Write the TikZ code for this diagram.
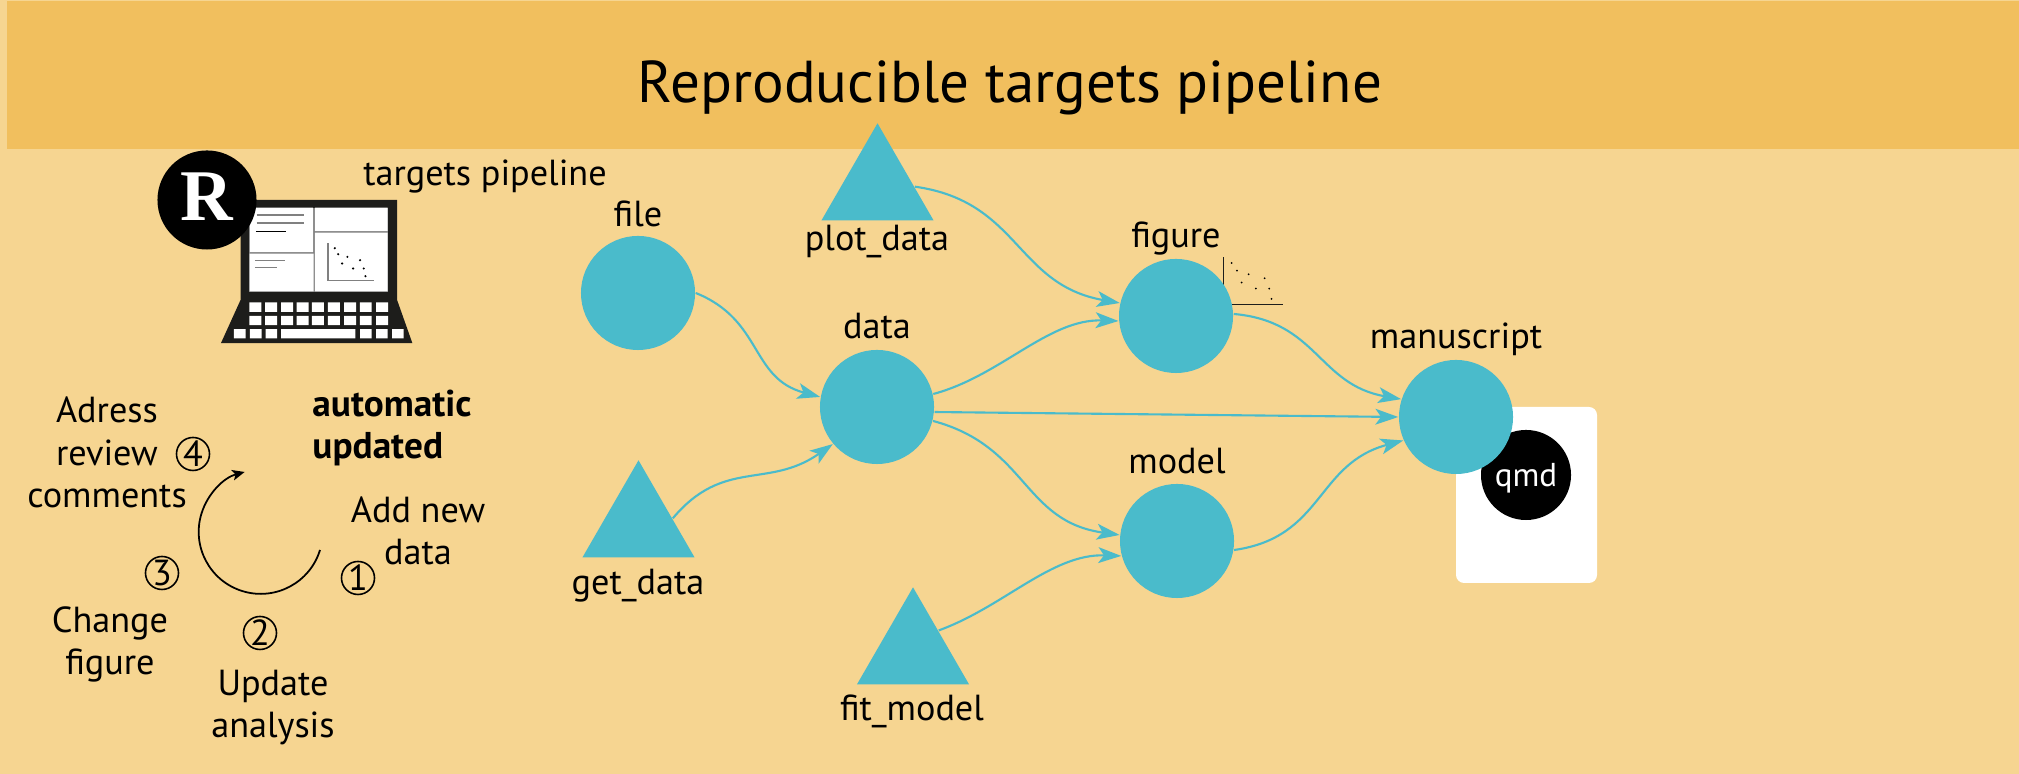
\documentclass[tikz,border=0pt]{standalone}
\usepackage{fontspec}
\setmainfont{PT Sans}
\newfontfamily\logofont{Liberation Serif}
\usetikzlibrary{arrows.meta,shapes.geometric}
\definecolor{bgsand}{HTML}{F6D591}
\definecolor{bandgold}{HTML}{F1BF5E}
\definecolor{targetteal}{HTML}{4ABBCB}
\definecolor{laptopdark}{HTML}{1D1D1B}
\newcommand{\labelfont}{\fontsize{10.3}{12.2}\selectfont}
\newcommand{\titlefont}{\fontsize{16.8}{20}\selectfont}

\begin{document}
\begin{tikzpicture}[x=0.01cm,y=0.01cm]
                        \tikzstyle{target}=[circle,fill=targetteal,inner sep=0pt,minimum size=1.14cm]
                        \tikzstyle{func}=[regular polygon,regular polygon sides=3,fill=targetteal,inner sep=0pt,minimum size=1.293cm]
                        \tikzstyle{link}=[draw=targetteal,line width=0.6pt,looseness=1.15,-{Stealth[length=6.5pt,width=4.5pt,inset=1.6pt]}]
                        \tikzstyle{txt}=[anchor=base,inner sep=0pt,font=\labelfont]
                        \tikzstyle{stepnum}=[circle,draw=black,line width=0.45pt,inner sep=0pt,minimum size=0.33cm,font=\labelfont]
                        \useasboundingbox (0,0) rectangle (2019,774);
                        \fill[bgsand] (0,0) rectangle (2019,774);
                        \fill[bandgold] (7,625) rectangle (2019,773);
                        \node[anchor=base,inner sep=0pt,font=\titlefont] (title) at (1010,671) {Reproducible targets pipeline};
                        % laptop
                        \begin{scope}[shift={(210,584)},x=0.00333cm,y=-0.00333cm]
                            \fill[laptopdark] (92,30) -- (562,30) -- (562,330) -- (608,460) -- (33,460) -- (92,330) -- cycle;
                            \fill[gray] (118,53) rectangle (534,307);
                            \fill[white] (120,53) rectangle (310,187) (119,191) rectangle (311,305) (315,53) rectangle (534,124) (315,128) rectangle (534,305);
                            \draw[gray,line width=0.4pt] (140,75) -- (282,75) (140,99) -- (282,99) (135,212) -- (225,212) (135,233) -- (200,233);
                            \draw[black,line width=0.3pt] (138,124) -- (228,124);
                            \draw[gray,line width=0.45pt] (354,160) -- (354,272) -- (493,272);
                            \fill[black] (375,175) circle (3.5) (385,193) circle (3.5) (413,201) circle (3.5) (451,211) circle (3.5) (397,221) circle (3.5) (430,236) circle (3.5) (462,236) circle (3.5) (467,259) circle (3.5);
                            \fill[white] (118,338) rectangle ++(36,28) (166,338) rectangle ++(36,28) (214,338) rectangle ++(36,28) (260,338) rectangle ++(36,28) (306,338) rectangle ++(36,28) (354,338) rectangle ++(36,28) (403,338) rectangle ++(36,28) (450,338) rectangle ++(36,28) (499,338) rectangle ++(36,28);
                            \fill[white] (118,378) rectangle ++(36,28) (166,378) rectangle ++(36,28) (214,378) rectangle ++(36,28) (260,378) rectangle ++(36,28) (306,378) rectangle ++(36,28) (354,378) rectangle ++(36,28) (403,378) rectangle ++(36,28) (450,378) rectangle ++(36,28) (499,378) rectangle ++(36,28);
                            \fill[white] (72,418) rectangle ++(35,28) (120,418) rectangle ++(35,28) (167,418) rectangle ++(35,28) (214,418) rectangle (437,446) (451,418) rectangle ++(35,28) (499,418) rectangle ++(35,28) (547,418) rectangle ++(35,28);
                        \end{scope}
                        \node[circle,fill=black,inner sep=0pt,minimum size=0.99cm] (rlogo) at (207,574) {};
                        \node[anchor=base,inner sep=0pt,text=white,font=\logofont\bfseries\fontsize{20.7}{22}\selectfont] (rletter) at (207,553) {R};
                        \node[txt] (pipelinelabel) at (485,588) {targets pipeline};
                        % review cycle
                        \coordinate (cyclestart) at (320,224);
                        \draw[black,line width=0.5pt,-{Stealth[length=3.5pt,width=3pt,inset=0.8pt]}] (cyclestart) arc[start angle=-17,end angle=-255,radius=62];
                        \node[txt,align=center] (adress) at (107,266) {Adress\\review\\comments};
                        \node[txt,align=left,font=\fontsize{10.6}{12.2}\selectfont\bfseries] (auto) at (392,315) {automatic\\updated};
                        \node[txt,align=center] (addnew) at (418,209) {Add new\\data};
                        \node[txt,align=center] (change) at (110,99) {Change\\figure};
                        \node[txt,align=center] (update) at (273,36) {Update\\analysis};
                        \node[stepnum] (one) at (358,196) {1};
                        \node[stepnum] (two) at (260,141) {2};
                        \node[stepnum] (three) at (162,201) {3};
                        \node[stepnum] (four) at (193,320) {4};
                        % manuscript sheet
                        \fill[white,rounded corners=0.08cm] (1456,191) rectangle (1597,367);
                        \node[circle,fill=black,inner sep=0pt,minimum size=0.9cm] (qmdcircle) at (1526,299) {};
                        \node[anchor=base,inner sep=0pt,text=white,font=\fontsize{9.4}{11}\selectfont] (qmd) at (1526,287) {qmd};
                        % small plot beside figure
                        \begin{scope}[shift={(1180,534)},x=0.00333cm,y=-0.00333cm]
                            \draw[laptopdark,line width=0.3pt] (130,52) -- (130,170);
                            \draw[laptopdark,line width=0.3pt] (130,193) -- (308,193);
                            \fill[black] (155,69) circle (3) (171,92) circle (3) (206,103) circle (3) (185,128) circle (3) (254,115) circle (3) (228,146) circle (3) (268,146) circle (3) (275,177) circle (3);
                        \end{scope}
                        % targets
                        \node[target] (file) at (638,481) {};
                        \node[target] (data) at (877,367) {};
                        \node[target] (figure) at (1176,458) {};
                        \node[target] (model) at (1177,233) {};
                        \node[target] (manuscript) at (1456,357) {};
                        \node[func] (plotdata) at (877.5,586) {};
                        \node[func] (getdata) at (638.5,249) {};
                        \node[func] (fitmodel) at (913,122) {};
                        \node[txt] (filelabel) at (638,547) {file};
                        \node[txt] (plotlabel) at (877,523) {plot\_data};
                        \node[txt] (datalabel) at (877,435) {data};
                        \node[txt] (figurelabel) at (1176,526) {figure};
                        \node[txt] (manuscriptlabel) at (1456,425) {manuscript};
                        \node[txt] (modellabel) at (1177,300) {model};
                        \node[txt] (getlabel) at (638,179) {get\_data};
                        \node[txt] (fitlabel) at (912,53) {fit\_model};
                        % links
                        \draw[link] (file.0) to[out=-22,in=165] (data.170);
                        \draw[link] (getdata.11) to[out=50,in=215] (data.220);
                        \draw[link] (plotdata.2) to[out=-8,in=170] (figure.167);
                        \draw[link,looseness=0.9] (data.13) to[out=15,in=178] (figure.185);
                        \draw[link] (data.-5) -- (manuscript.180);
                        \draw[link] (data.-14) to[out=-15,in=172] (model.174);
                        \draw[link,looseness=0.9] (fitmodel.40) to[out=20,in=178] (model.195);
                        \draw[link] (figure.2) to[out=-5,in=170] (manuscript.162);
                        \draw[link] (model.-9) to[out=8,in=195] (manuscript.204);
                    \end{tikzpicture}
\end{document}
